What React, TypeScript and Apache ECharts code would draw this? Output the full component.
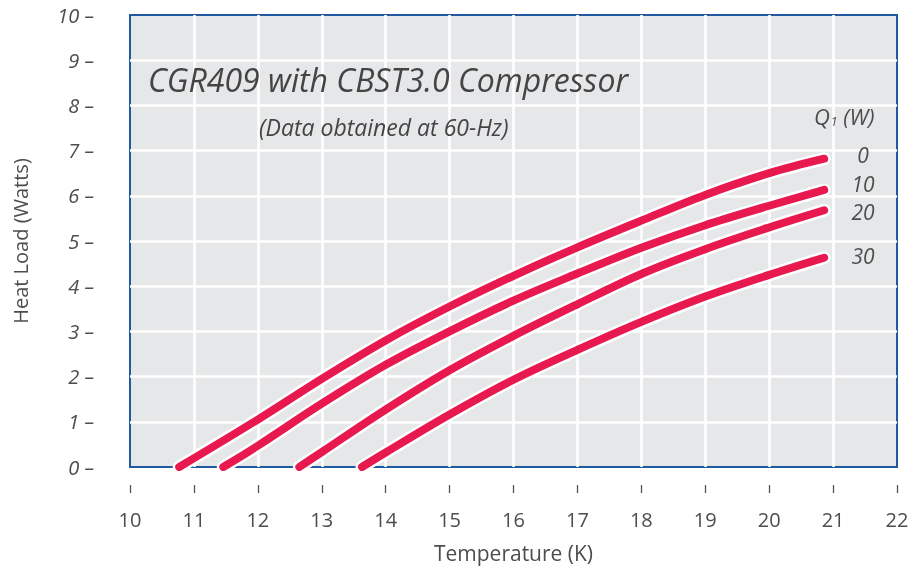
import React, { useEffect, useRef } from "react";
import * as echarts from "echarts";

// Temperature (K) and heat load (W) for each first-stage load Q1
const q1Labels = ["0", "10", "20", "30"];
const c0Temp = [10.77, 12, 13, 14, 15, 16, 17, 18, 19, 20, 20.86];
const c0Load = [0, 1.05, 1.95, 2.8, 3.55, 4.23, 4.86, 5.45, 6.02, 6.5, 6.82];
const c10Temp = [11.46, 12, 13, 14, 15, 16, 17, 18, 19, 20, 20.86];
const c10Load = [0, 0.47, 1.4, 2.26, 3.0, 3.68, 4.28, 4.85, 5.35, 5.78, 6.13];
const c20Temp = [12.65, 13, 14, 15, 16, 17, 18, 19, 20, 20.86];
const c20Load = [0, 0.33, 1.27, 2.14, 2.9, 3.6, 4.27, 4.82, 5.3, 5.68];
const c30Temp = [13.63, 14, 15, 16, 17, 18, 19, 20, 20.86];
const c30Load = [0, 0.32, 1.16, 1.93, 2.59, 3.21, 3.77, 4.25, 4.63];

const xTicks = [10, 11, 12, 13, 14, 15, 16, 17, 18, 19, 20, 21, 22];
const yTicks = [0, 1, 2, 3, 4, 5, 6, 7, 8, 9, 10];

const titleText = "CGR409 with CBST3.0 Compressor";
const subtitleText = "(Data obtained at 60-Hz)";

const FONT = "'Open Sans', sans-serif";
const RED = "#e8194f";
const TEXT = "#4d4d4d";

export default function App() {
  const ref = useRef<HTMLDivElement>(null);
  useEffect(() => {
    if (!ref.current) return;
    const chart = echarts.init(ref.current, null, { renderer: "svg" });
    const curves = [
      [c0Temp, c0Load],
      [c10Temp, c10Load],
      [c20Temp, c20Load],
      [c30Temp, c30Load],
    ];
    const pairs = curves.map(([t, l]) => t.map((v, i) => [v, l[i]]));
    const halo = pairs.map((d, i) => ({
      type: "line",
      name: "halo" + q1Labels[i],
      data: d,
      smooth: 0.35,
      showSymbol: false,
      silent: true,
      z: 3,
      lineStyle: { color: "#ffffff", width: 13, cap: "round", join: "round" },
    }));
    const red = pairs.map((d, i) => ({
      type: "line",
      name: q1Labels[i],
      data: d,
      smooth: 0.35,
      showSymbol: false,
      silent: true,
      z: 4,
      lineStyle: { color: RED, width: 8, cap: "round", join: "round" },
    }));
    const labelY = [155, 184, 212, 256];
    chart.setOption({
      animation: false,
      textStyle: { fontFamily: FONT },
      grid: {
        left: 130,
        right: 19,
        top: 15,
        bottom: 102,
        containLabel: false,
        outerBoundsMode: "none",
        show: true,
        backgroundColor: "#e6e7e9",
        borderColor: "#1f5aa0",
        borderWidth: 2,
        z: 0,
      },
      xAxis: {
        type: "value",
        min: 10,
        max: 22,
        interval: 1,
        axisLine: { show: false },
        axisTick: {
          show: true,
          inside: false,
          length: 26,
          lineStyle: { color: "#555555", width: 1.3, type: [0, 18, 8, 40] },
        },
        axisLabel: {
          margin: 42,
          fontSize: 20,
          color: TEXT,
          fontFamily: FONT,
          formatter: (v: number) => (xTicks.includes(v) ? String(v) : ""),
        },
        splitLine: {
          show: true,
          showMinLine: false,
          showMaxLine: false,
          lineStyle: { color: "#ffffff", width: 2.5 },
        },
        name: "Temperature (K)",
        nameLocation: "middle",
        nameGap: 75,
        nameTextStyle: { fontSize: 21, color: TEXT, fontFamily: FONT },
      },
      yAxis: {
        type: "value",
        min: 0,
        max: 10,
        interval: 1,
        axisLine: { show: false },
        axisTick: { show: false },
        axisLabel: {
          margin: 36,
          fontSize: 20,
          fontStyle: "italic",
          color: TEXT,
          fontFamily: FONT,
          formatter: (v: number) => (yTicks.includes(v) ? v + " \u2013" : ""),
        },
        splitLine: {
          show: true,
          showMinLine: false,
          showMaxLine: false,
          lineStyle: { color: "#ffffff", width: 2.5 },
        },
        name: "Heat Load (Watts)",
        nameLocation: "middle",
        nameGap: 100,
        nameTextStyle: { fontSize: 20, color: TEXT, fontFamily: FONT },
      },
      graphic: [
        {
          type: "text",
          left: 148,
          top: 63,
          z: 10,
          style: {
            text: titleText,
            font: `italic 32px ${FONT}`,
            fill: "#444",
          },
        },
        {
          type: "text",
          left: 259,
          top: 115,
          z: 10,
          style: {
            text: subtitleText,
            font: `italic 23px ${FONT}`,
            fill: "#444",
          },
        },
        {
          type: "text",
          left: 814,
          top: 105,
          z: 10,
          style: {
            text: "{q|Q}{s|1}{q| (W)}",
            rich: {
              q: { font: `italic 22px ${FONT}`, fill: TEXT },
              s: { font: `italic 12px ${FONT}`, fill: TEXT, padding: [11, 0, 0, 1] },
            },
          },
        },
        ...q1Labels.map((lab, i) => ({
          type: "text",
          x: 863,
          y: labelY[i],
          z: 10,
          style: {
            text: lab,
            font: `italic 21px ${FONT}`,
            fill: TEXT,
            textAlign: "center",
            textVerticalAlign: "middle",
          },
        })),
      ],
      series: [...halo, ...red],
    });
    return () => chart.dispose();
  }, []);
  return (
    <div
      ref={ref}
      style={{ position: "fixed", left: 0, top: 0, width: 916, height: 569 }}
    />
  );
}
